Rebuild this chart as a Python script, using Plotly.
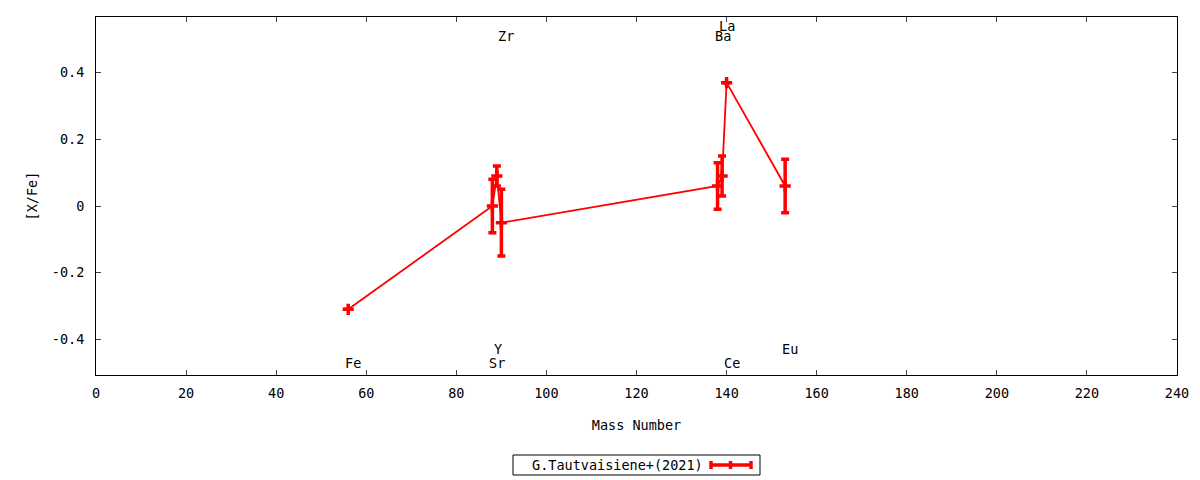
import plotly.graph_objects as go

# abundances
elements = ["Fe", "Sr", "Y", "Zr", "Ba", "La", "Ce", "Eu"]
mass = [56, 88, 89, 90, 138, 139, 140, 153]
xfe = [-0.31, 0.00, 0.09, -0.05, 0.06, 0.09, 0.37, 0.06]
xfe_err = [0.0, 0.08, 0.03, 0.10, 0.07, 0.06, 0.0, 0.08]

# element name labels (x = mass, y = label height)
label_y = [-0.47, -0.47, -0.43, 0.51, 0.51, 0.54, -0.47, -0.43]

xticks = [0, 20, 40, 60, 80, 100, 120, 140, 160, 180, 200, 220, 240]
yticks = [-0.4, -0.2, 0, 0.2, 0.4]
yticktext = ["-0.4", "-0.2", "0", "0.2", "0.4"]

legend_name = "G.Tautvaisiene+(2021)"
RED = "#ff0000"
FONT = "DejaVu Sans Mono"
FS = 13.5

fig = go.Figure()

fig.add_trace(go.Scatter(
    x=mass, y=xfe,
    mode="lines+markers",
    line=dict(color=RED, width=1.8),
    marker=dict(symbol="cross-thin", size=8, color=RED,
                line=dict(color=RED, width=3.5)),
    error_y=dict(type="data", array=xfe_err, visible=True,
                 color=RED, thickness=3.5, width=4),
    name=legend_name,
    showlegend=False,
))

for el, m, ly in zip(elements, mass, label_y):
    fig.add_annotation(x=m - 1.1, y=ly, text=el, showarrow=False,
                       xanchor="left", yanchor="middle",
                       font=dict(family=FONT, size=FS, color="black"))

# gnuplot style key below the plot (paper coords, from page pixels)
W, H = 1081, 358
def px(x):
    return (x - 96) / W
def py(y):
    return (375 - y) / H

fig.add_shape(type="rect", xref="paper", yref="paper",
              x0=px(513), x1=px(760), y0=py(475), y1=py(455),
              line=dict(color="black", width=1))
fig.add_annotation(xref="paper", yref="paper", x=px(530), y=py(465),
                   text=legend_name, showarrow=False, xanchor="left",
                   yanchor="middle",
                   font=dict(family=FONT, size=FS, color="black"))
fig.add_shape(type="line", xref="paper", yref="paper",
              x0=px(710), x1=px(752), y0=py(465), y1=py(465),
              line=dict(color=RED, width=3.5))
for tx in (711, 730.5, 751):
    fig.add_shape(type="line", xref="paper", yref="paper",
                  x0=px(tx), x1=px(tx), y0=py(461), y1=py(469),
                  line=dict(color=RED, width=3.5))

fig.update_xaxes(range=[0, 240], tickvals=xticks, ticks="inside", ticklen=5,
                 showline=True, linecolor="black", linewidth=1,
                 mirror="ticks", showgrid=False, zeroline=False,
                 ticklabelstandoff=6,
                 title=dict(text="Mass Number", standoff=20,
                            font=dict(family=FONT, size=FS)))
fig.update_yaxes(range=[-0.507, 0.567], tickvals=yticks, ticktext=yticktext,
                 ticks="inside", ticklen=5,
                 showline=True, linecolor="black", linewidth=1,
                 mirror="ticks", showgrid=False, zeroline=False,
                 ticklabelstandoff=8,
                 title=dict(text="[X/Fe]", standoff=11,
                            font=dict(family=FONT, size=FS)))

# page has an 8px body margin, so shift the plot area up/left
fig.update_layout(
    width=1200, height=480,
    margin=dict(l=88, r=31, t=9, b=113),
    plot_bgcolor="white", paper_bgcolor="white",
    font=dict(family=FONT, size=FS, color="black"),
    showlegend=False,
)

fig.write_html("out.html")
